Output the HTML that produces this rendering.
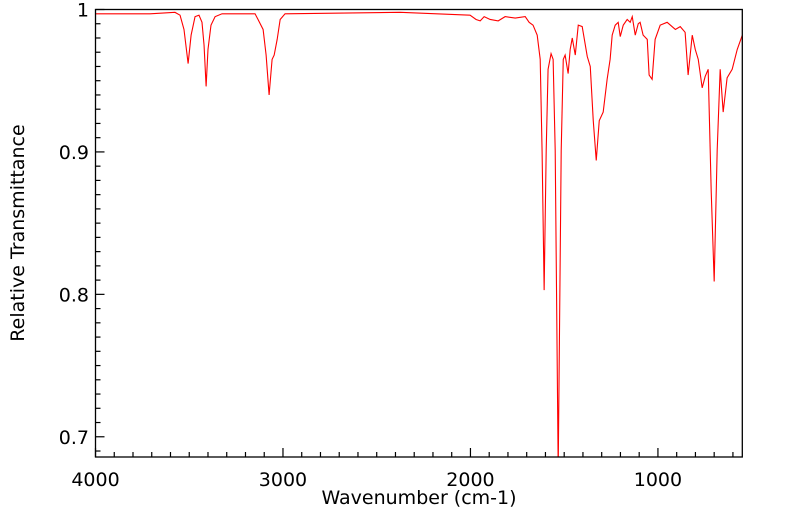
<!DOCTYPE html>
<html><head><meta charset="utf-8"><style>
body{margin:0;background:#fff;}
svg{display:block;font-family:"DejaVu Sans","Liberation Sans",sans-serif;}
</style></head><body>
<svg id="chart" width="799" height="516">
<defs><clipPath id="clip"><rect x="95.5" y="9.5" width="646.8" height="447.5"/></clipPath></defs>
<g id="ticks"></g>
<path id="line" fill="none" stroke="#ff0000" stroke-width="1.1" clip-path="url(#clip)"/>
<rect x="95.5" y="9.5" width="646.8" height="447.5" fill="none" stroke="#000" stroke-width="1.3"/>
<g id="labels"></g>
<text x="419" y="504" text-anchor="middle" font-size="19">Wavenumber (cm-1)</text>
<text transform="translate(24,233) rotate(-90)" text-anchor="middle" font-size="19">Relative Transmittance</text>
</svg>
<script>
const wavenumbers=[4000,3709,3576,3549,3528,3506,3490,3469,3448,3432,3421,3410,3400,3384,3362,3325,3149,3133,3106,3090,3074,3058,3047,3031,3015,2989,2375,2002,1970,1948,1927,1895,1852,1815,1761,1708,1687,1666,1644,1628,1618,1607,1596,1586,1570,1559,1548,1532,1516,1505,1495,1479,1468,1457,1441,1425,1404,1377,1361,1345,1329,1313,1292,1271,1255,1244,1228,1212,1201,1185,1164,1148,1137,1121,1105,1095,1079,1057,1047,1031,1015,988,951,907,881,855,839,817,801,785,764,748,732,716,700,684,668,652,631,604,577,550];
const transmittance=[0.997,0.997,0.998,0.996,0.986,0.962,0.982,0.995,0.996,0.991,0.975,0.946,0.972,0.989,0.995,0.997,0.997,0.993,0.986,0.968,0.940,0.965,0.968,0.979,0.993,0.997,0.998,0.996,0.993,0.992,0.995,0.993,0.992,0.995,0.994,0.995,0.991,0.989,0.982,0.965,0.901,0.803,0.901,0.958,0.969,0.965,0.901,0.677,0.901,0.965,0.968,0.955,0.972,0.980,0.968,0.989,0.988,0.967,0.960,0.922,0.894,0.922,0.928,0.951,0.965,0.982,0.989,0.991,0.981,0.989,0.993,0.991,0.995,0.982,0.990,0.991,0.982,0.979,0.954,0.951,0.979,0.989,0.991,0.986,0.988,0.984,0.954,0.982,0.972,0.965,0.945,0.953,0.958,0.873,0.809,0.901,0.958,0.928,0.952,0.958,0.972,0.982];
const xTickLabels=[4000,3000,2000,1000];
const yTickLabels=[1,0.9,0.8,0.7];
const X0=95.5,X1=742.3,Y0=9.5,Y1=457;
const xMin=550,xMax=4000,yMin=0.6858,yMax=1.0;
function xs(w){return X0+(xMax-w)/(xMax-xMin)*(X1-X0);}
function ys(v){return Y0+(yMax-v)/(yMax-yMin)*(Y1-Y0);}
const NS="http://www.w3.org/2000/svg";
let d="";
for(let i=0;i<wavenumbers.length;i++){d+=(i?"L":"M")+xs(wavenumbers[i]).toFixed(2)+","+ys(transmittance[i]).toFixed(2);}
document.getElementById("line").setAttribute("d",d);
const tg=document.getElementById("ticks"),lg=document.getElementById("labels");
function ln(x1,y1,x2,y2){const l=document.createElementNS(NS,"line");l.setAttribute("x1",x1);l.setAttribute("y1",y1);l.setAttribute("x2",x2);l.setAttribute("y2",y2);l.setAttribute("stroke","#000");l.setAttribute("stroke-width","1.2");


tg.appendChild(l);}
for(let w=600;w<=4000;w+=100){const x=xs(w);ln(x,Y1,x,Y1-(w%1000===0?9:5));}
for(let k=69;k<=100;k++){const v=k/100,y=ys(v);if(y<Y0-0.5||y>Y1)continue;ln(X0,y,X0+(k%10===0?9:5),y);}
xTickLabels.forEach(w=>{const t=document.createElementNS(NS,"text");t.setAttribute("x",xs(w));t.setAttribute("y",486);t.setAttribute("text-anchor","middle");t.setAttribute("font-size","19");t.textContent=w;


lg.appendChild(t);});
yTickLabels.forEach(v=>{const t=document.createElementNS(NS,"text");t.setAttribute("x",89);t.setAttribute("y",ys(v)+7);t.setAttribute("text-anchor","end");t.setAttribute("font-size","19");t.textContent=v;


lg.appendChild(t);});
</script>
</body></html>
